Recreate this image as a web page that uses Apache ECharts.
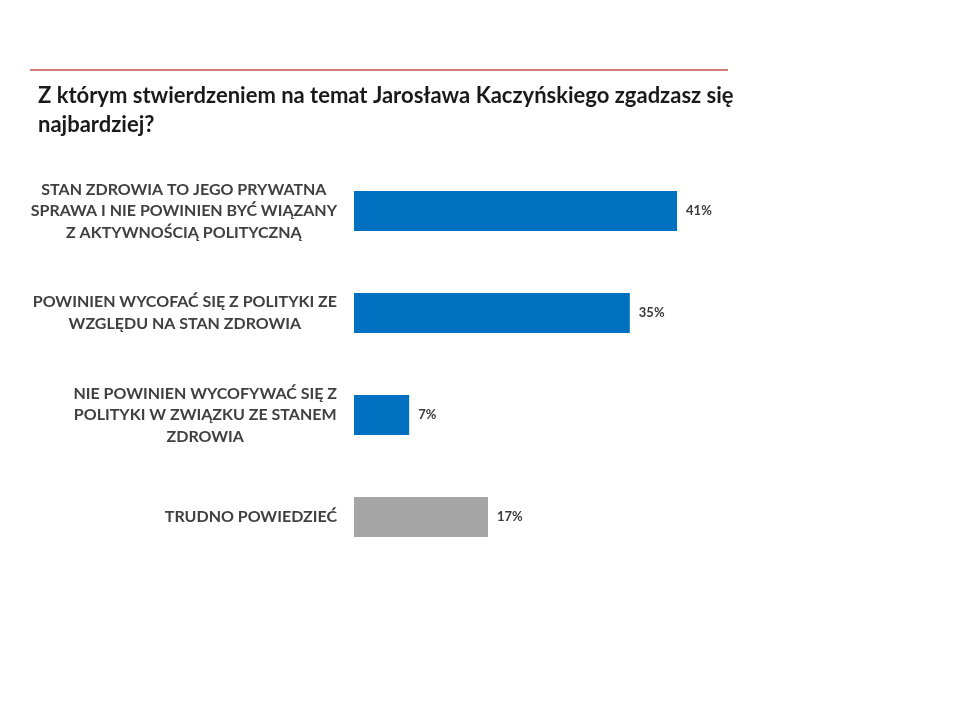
<!DOCTYPE html>
<html><head><meta charset="utf-8">
<script src="https://cdn.jsdelivr.net/npm/echarts@6/dist/echarts.min.js"></script>
<style>html,body{margin:0;padding:0;background:#fff}#c{width:960px;height:720px}</style>
</head><body><div id="c"></div>
<script>
const titleText = 'Z którym stwierdzeniem na temat Jarosława Kaczyńskiego zgadzasz się\nnajbardziej?';
const categories = [
  'STAN ZDROWIA TO JEGO PRYWATNA\nSPRAWA I NIE POWINIEN BYĆ WIĄZANY\nZ AKTYWNOŚCIĄ POLITYCZNĄ',
  'POWINIEN WYCOFAĆ SIĘ Z POLITYKI ZE\nWZGLĘDU NA STAN ZDROWIA',
  'NIE POWINIEN WYCOFYWAĆ SIĘ Z\nPOLITYKI W ZWIĄZKU ZE STANEM\nZDROWIA',
  'TRUDNO POWIEDZIEĆ'
];
const values = [41, 35, 7, 17];
const barColors = ['#0070c0', '#0070c0', '#0070c0', '#a5a5a5'];
const FONT = 'Lato';

const chart = echarts.init(document.getElementById('c'), null, {renderer: 'canvas'});
chart.setOption({
  animation: false,
  backgroundColor: '#fff',
  title: {
    text: titleText, left: 33, top: 76,
    textStyle: {fontFamily: FONT, fontWeight: 'bold', fontSize: 22, lineHeight: 29, color: '#1a1a1a'}
  },
  graphic: [{
    type: 'line', shape: {x1: 30, y1: 70, x2: 728, y2: 70},
    style: {stroke: '#c0504d', lineWidth: 1.5}
  }],
  grid: {left: 354, top: 160, width: 394, height: 408, containLabel: false},
  xAxis: {type: 'value', min: 0, max: 50, show: false},
  yAxis: {
    type: 'category', inverse: true, data: categories,
    axisLine: {show: false}, axisTick: {show: false}, splitLine: {show: false},
    axisLabel: {
      margin: 17,
      formatter: v => '{a|' + v + '}',
      rich: {a: {align: 'center', fontFamily: FONT, fontWeight: 'bold', fontSize: 16, lineHeight: 21.5, color: '#404040'}}
    }
  },
  series: [{
    type: 'bar', barWidth: 40,
    data: values.map((v, i) => ({value: v, itemStyle: {color: barColors[i]}})),
    label: {
      show: true, position: 'right', distance: 9, formatter: '{c}%',
      fontFamily: FONT, fontWeight: 'bold', fontSize: 13, color: '#3a3a3a'
    }
  }]
});
</script></body></html>
